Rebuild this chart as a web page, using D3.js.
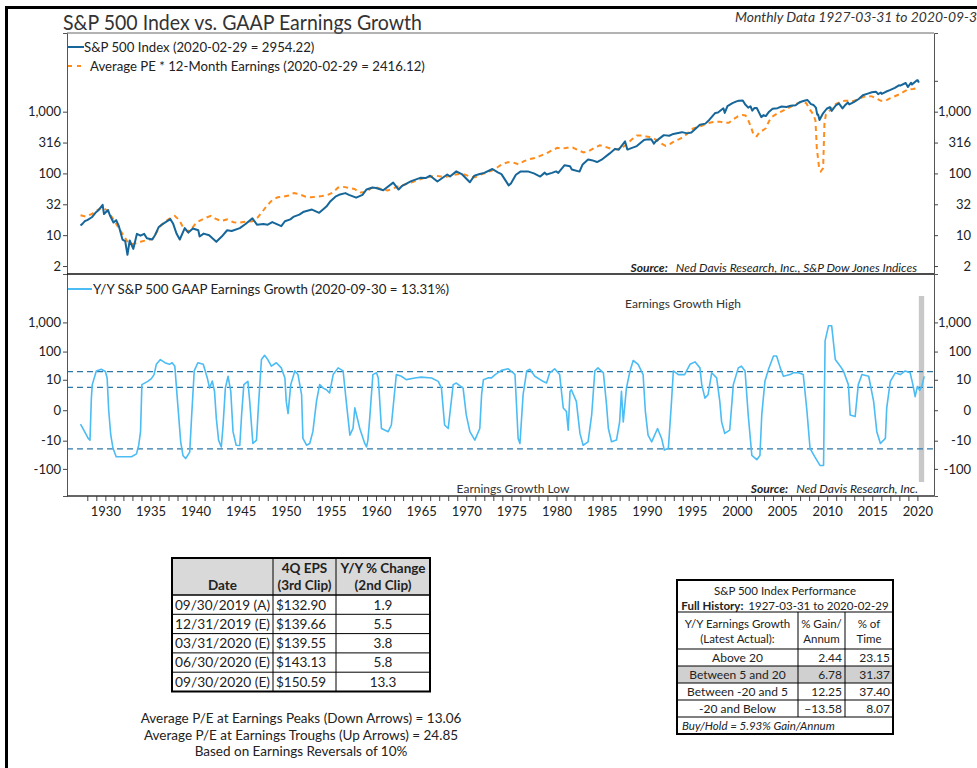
<!DOCTYPE html>
<html>
<head>
<meta charset="utf-8">
<script src="https://cdn.jsdelivr.net/npm/d3@7"></script>
<style>
  body { margin: 0; background: #fff; }
  svg text { font-family: Lato, "Open Sans", sans-serif; fill: #222; }
</style>
</head>
<body>
<svg id="chart" width="977" height="768"></svg>
<script>
// S&P 500 index, monthly data (year, value)
const spxSeries = [
  [1927.25,14.3],[1927.5,15.5],[1927.75,17],[1928.0,17.5],[1928.5,19.5],[1928.9,23],[1929.2,25],[1929.7,31],
  [1929.85,22],[1930.3,25.5],[1930.5,21],[1930.9,16],[1931.2,17.5],[1931.5,14],[1931.9,8.5],[1932.2,8],
  [1932.45,4.8],[1932.7,8.2],[1933.1,6],[1933.5,10.5],[1933.9,9.8],[1934.3,10.5],[1934.6,8.9],[1935.2,8.5],
  [1935.5,10],[1935.9,13.4],[1936.3,15],[1936.9,17],[1937.2,18.2],[1937.5,15.5],[1937.9,10.5],[1938.25,8.5],
  [1938.8,13],[1939.2,11],[1939.7,12.8],[1940.3,12],[1940.45,9.5],[1940.9,10.6],[1941.5,10],[1941.9,8.8],
  [1942.3,7.8],[1942.9,9.5],[1943.5,12],[1944.0,11.7],[1944.9,13],[1945.5,15],[1946.3,18.7],[1946.8,14.8],
  [1947.5,15.2],[1948.0,14.8],[1948.5,16.3],[1949.5,14],[1949.9,16.8],[1950.5,18],[1950.9,20],[1951.5,21.5],
  [1952.0,24],[1952.9,26],[1953.7,23],[1954.5,29],[1954.95,35.5],[1955.5,42],[1955.9,45],[1956.6,48],
  [1957.0,45],[1957.8,40.5],[1958.5,45],[1958.95,55],[1959.6,59],[1960.0,58],[1960.8,53.5],[1961.9,71],
  [1962.5,54.8],[1962.9,63],[1963.9,75],[1964.9,84.7],[1965.5,84],[1966.0,92],[1966.8,74],[1967.9,96],
  [1968.2,89],[1968.9,108],[1969.5,97.7],[1970.4,72],[1970.9,92],[1971.5,98],[1972.0,102],[1972.9,118],
  [1973.5,104],[1973.9,97.5],[1974.7,64],[1974.95,68.6],[1975.5,95],[1976.0,107],[1976.9,107],[1977.5,100],
  [1978.2,89],[1978.7,103],[1978.9,96],[1979.5,102],[1979.95,108],[1980.2,102],[1980.9,136],[1981.5,131],
  [1981.7,116],[1982.55,107],[1982.9,140],[1983.5,168],[1983.9,164],[1984.5,153],[1985.0,167],[1985.9,211],
  [1986.5,250],[1986.9,242],[1987.6,330],[1987.85,245],[1988.0,247],[1988.9,277],[1989.7,349],[1989.95,353],
  [1990.5,358],[1990.8,304],[1991.0,330],[1991.9,417],[1992.5,408],[1992.95,436],[1993.9,466],[1994.5,445],
  [1994.95,459],[1995.9,616],[1996.5,640],[1996.95,741],[1997.6,954],[1997.9,970],[1998.5,1133],[1998.65,957],
  [1998.95,1229],[1999.5,1373],[1999.95,1469],[2000.2,1499],[2000.65,1517],[2000.9,1320],[2001.25,1160],[2001.5,1224],
  [2001.7,1040],[2001.95,1148],[2002.2,1147],[2002.7,815],[2002.95,880],[2003.2,848],[2003.5,975],[2003.95,1112],
  [2004.5,1141],[2004.95,1212],[2005.5,1191],[2005.95,1248],[2006.5,1270],[2006.95,1418],[2007.45,1503],[2007.8,1549],
  [2007.95,1468],[2008.2,1323],[2008.5,1280],[2008.75,1166],[2008.9,896],[2009.0,903],[2009.15,735],[2009.5,919],
  [2009.95,1115],[2010.3,1187],[2010.5,1030],[2010.95,1258],[2011.3,1364],[2011.7,1131],[2011.95,1258],[2012.3,1408],
  [2012.45,1310],[2012.95,1426],[2013.5,1606],[2013.95,1848],[2014.5,1960],[2014.95,2059],[2015.4,2107],[2015.65,1920],
  [2015.95,2044],[2016.05,1940],[2016.5,2099],[2016.95,2239],[2017.5,2423],[2017.95,2674],[2018.1,2640],[2018.7,2914],
  [2018.95,2507],[2019.3,2946],[2019.4,2752],[2019.95,3231],[2020.05,3226],[2020.16,2954]
];

// Average PE * 12-month earnings (year, value)
const fairSeries = [
  [1927.25,21],[1927.8,20],[1928.5,22],[1929.2,26],[1929.75,28],[1930.2,25],[1930.6,21],[1931.0,17],
  [1931.5,13],[1932.0,10],[1932.5,7.6],[1933.0,7.2],[1933.5,7.4],[1934.0,7.9],[1934.6,8.3],[1935.2,8.6],
  [1935.6,10.5],[1936.0,13.5],[1936.6,16.5],[1937.1,18.5],[1937.7,20.5],[1938.2,17.5],[1938.6,13.5],[1939.1,11.5],
  [1939.6,13],[1940.1,16],[1940.6,17.5],[1941.1,19],[1941.7,20.5],[1942.2,18.5],[1942.8,17],[1943.5,18],
  [1944.2,16.2],[1944.9,16],[1945.6,16.5],[1946.3,16.8],[1946.9,19.5],[1947.4,24],[1947.9,30],[1948.5,37],
  [1949.1,41],[1949.7,42],[1950.3,44],[1950.9,48],[1951.5,46],[1952.2,42],[1952.8,41],[1953.4,42],
  [1954.0,43],[1954.6,44.5],[1955.2,49],[1955.8,59],[1956.4,60.5],[1957.0,58],[1957.6,56],[1958.3,49],
  [1958.9,50],[1959.5,58],[1960.1,59],[1960.7,55],[1961.3,53],[1961.9,57],[1962.5,62],[1963.2,66],
  [1963.9,71],[1964.6,78],[1965.3,84],[1966.0,88],[1966.6,92],[1967.2,89],[1967.8,88],[1968.5,94],
  [1969.2,98],[1969.8,96],[1970.5,88],[1971.0,87],[1971.6,96],[1972.3,104],[1972.9,112],[1973.5,127],
  [1974.0,142],[1974.6,152],[1975.2,150],[1975.8,140],[1976.4,158],[1977.0,170],[1977.6,178],[1978.2,192],
  [1978.9,212],[1979.5,236],[1980.1,260],[1980.6,252],[1981.2,260],[1981.8,262],[1982.4,238],[1983.0,218],
  [1983.6,230],[1984.2,260],[1984.8,286],[1985.4,270],[1986.0,252],[1986.6,245],[1987.2,255],[1987.8,300],
  [1988.4,360],[1988.9,410],[1989.5,410],[1990.0,395],[1990.6,380],[1991.2,340],[1991.7,300],[1992.1,280],
  [1992.6,300],[1993.1,335],[1993.6,360],[1994.1,390],[1994.6,460],[1995.1,530],[1995.6,565],[1996.1,590],
  [1996.6,640],[1997.1,670],[1997.6,690],[1998.1,690],[1998.6,665],[1999.1,660],[1999.6,750],[2000.1,840],
  [2000.6,880],[2000.95,870],[2001.3,700],[2001.6,540],[2001.85,420],[2002.2,400],[2002.5,470],[2002.9,500],
  [2003.2,540],[2003.55,700],[2003.9,830],[2004.5,940],[2004.95,1010],[2005.5,1110],[2005.95,1200],[2006.5,1330],
  [2006.95,1410],[2007.4,1430],[2007.7,1370],[2007.95,1150],[2008.25,1000],[2008.5,880],[2008.7,720],[2008.85,260],
  [2009.1,125],[2009.3,108],[2009.55,122],[2009.7,650],[2009.85,890],[2010.3,1050],[2010.6,1200],[2010.95,1330],
  [2011.5,1450],[2011.95,1500],[2012.5,1500],[2012.95,1490],[2013.5,1610],[2013.95,1730],[2014.5,1790],[2014.95,1770],
  [2015.5,1620],[2015.95,1500],[2016.5,1510],[2016.95,1640],[2017.5,1780],[2017.95,1900],[2018.5,2110],[2018.95,2290],
  [2019.5,2330],[2019.95,2410],[2020.16,2416]
];

// Y/Y S&P 500 GAAP earnings growth, % (year, value)
const growthSeries = [
  [1927.25,-2],[1927.7,-4.4],[1928.1,-8.2],[1928.3,-9.5],[1928.45,1.6],[1928.55,6.5],[1929.0,21],[1929.55,24],
  [1930.0,20],[1930.2,11.7],[1930.37,0],[1930.6,-6],[1930.85,-19],[1931.2,-38],[1932.9,-38],[1933.45,-30],
  [1933.7,-14.7],[1933.9,-4.4],[1934.05,6.5],[1934.7,8.7],[1935.1,11],[1935.4,15.5],[1935.65,36],[1936.1,53],
  [1936.6,41],[1937.1,36],[1937.4,41],[1937.7,31],[1938.0,1],[1938.35,-11],[1938.6,-34],[1938.9,-44],
  [1939.35,-26],[1939.55,-0.9],[1939.85,21],[1940.25,41],[1940.85,36],[1941.3,11.7],[1941.55,4.7],[1941.85,9],
  [1942.1,3.4],[1942.3,-0.9],[1942.55,-9.5],[1942.85,-17],[1943.05,-2.2],[1943.3,4.7],[1943.6,13.5],[1943.9,3.4],
  [1944.15,-4.4],[1944.5,-14.7],[1944.9,-15],[1945.1,-0.45],[1945.35,6.5],[1945.8,8.7],[1946.0,1],[1946.35,-12.7],
  [1946.75,-9.5],[1947.0,1],[1947.3,53],[1947.65,74],[1948.0,53],[1948.4,31],[1948.95,41],[1949.5,27],
  [1949.9,11.7],[1950.05,1],[1950.25,-0.3],[1950.55,6.5],[1951.0,21],[1951.35,15.5],[1951.75,2.4],[1951.9,-8.2],
  [1952.3,-14.7],[1952.65,-12.7],[1953.0,-4.4],[1953.4,1],[1953.75,6.5],[1954.15,4.7],[1954.5,4],[1954.85,2.9],
  [1955.25,15.5],[1955.8,27],[1956.35,21],[1956.7,1],[1957.1,-6.1],[1957.45,-3.2],[1957.65,0.2],[1958.2,-3.2],
  [1958.75,-12.7],[1958.95,-17],[1959.1,-9.5],[1959.3,-0.9],[1959.65,15.5],[1960.05,18],[1960.25,11.7],[1960.6,-3.2],
  [1961.35,-4.4],[1961.7,-2.2],[1962.25,15.5],[1962.8,13.5],[1963.35,10.1],[1964.3,11.7],[1965.0,12.5],[1966.15,11.7],
  [1966.9,8.7],[1967.25,4.7],[1967.6,-2.2],[1968.0,-3.2],[1968.55,6.5],[1968.9,7.5],[1969.65,4.7],[1970.0,-0.45],
  [1970.4,-4.4],[1970.95,-9.5],[1971.5,-3.2],[1971.7,2.4],[1971.9,10.1],[1972.4,11.7],[1972.8,11.7],[1973.2,15.5],
  [1973.9,22],[1974.65,25],[1975.2,18],[1975.4,15.5],[1975.55,1],[1975.75,-8.2],[1975.95,-12.7],[1976.3,2.4],
  [1976.7,21],[1977.05,24],[1977.6,13.5],[1978.5,8.7],[1978.9,7.5],[1979.25,18],[1979.8,25],[1980.35,15.5],
  [1980.75,0.2],[1981.1,-0.1],[1981.3,-3.8],[1981.5,3.4],[1981.65,4],[1982.2,1],[1982.6,-5.2],[1982.95,-14.7],
  [1983.5,-11],[1983.9,-0.45],[1984.25,21],[1984.6,27],[1985.2,18],[1985.55,0.5],[1985.75,-3.2],[1986.1,-11],
  [1986.65,-9.5],[1987.0,-1.5],[1987.2,3.4],[1987.4,-1.5],[1987.75,4.7],[1988.15,21],[1988.5,49],[1989.05,36],
  [1989.6,15.5],[1989.85,-0.1],[1990.15,-6.1],[1990.55,-11],[1991.2,-3.2],[1991.65,-8.2],[1991.95,-22],[1992.4,-19],
  [1992.75,1],[1992.95,21],[1993.5,15.5],[1994.2,15.5],[1994.8,36],[1995.35,44],[1995.9,27],[1996.1,6.5],
  [1996.45,1.6],[1996.8,2.4],[1997.2,18],[1997.75,11.7],[1998.1,1],[1998.3,-1.5],[1998.65,-5.2],[1999.2,-3.8],
  [1999.6,6.5],[2000.15,27],[2000.5,31],[2000.9,21],[2001.25,-0.45],[2001.65,-34],[2002.2,-48],[2002.55,-34],
  [2002.75,-0.45],[2003.1,8.7],[2003.5,24],[2004.05,70],[2004.4,70],[2004.8,27],[2005.15,13.5],[2005.9,15.5],
  [2006.25,18],[2006.8,18],[2007.35,15.5],[2007.75,0],[2008.1,-19],[2008.65,-39],[2009.2,-76],[2009.6,-76],
  [2009.77,232],[2010.15,766],[2010.5,766],[2010.9,53],[2011.45,31],[2011.8,21],[2012.35,6.5],[2012.55,-0.45],
  [2013.1,-0.65],[2013.45,6.5],[2013.85,15.5],[2014.6,13.5],[2015.15,1],[2015.5,-4.4],[2015.9,-12.7],[2016.45,-8.2],
  [2016.6,0.2],[2017.0,8.7],[2017.55,18],[2018.1,15.5],[2018.65,21],[2019.2,18],[2019.5,6.5],[2019.75,1.9],
  [2020.0,5.5],[2020.25,3.8],[2020.5,5.8],[2020.75,13.3]
];

// axis ticks
const topTicks = [3.162, 10, 31.62, 100, 316.2, 1000];
const topTickLabels = ["2", "10", "32", "100", "316", "1,000"];
const growthTicks = [-100, -10, 0, 10, 100, 1000];
const growthTickLabels = ["-100", "-10", "0", "10", "100", "1,000"];
const growthLevels = [20, 5, -20];
const estimateSpan = [2020.16, 2020.75];

// EPS table
const epsDates = ["09/30/2019 (A)", "12/31/2019 (E)", "03/31/2020 (E)", "06/30/2020 (E)", "09/30/2020 (E)"];
const epsValues = [132.90, 139.66, 139.55, 143.13, 150.59];
const epsChange = [1.9, 5.5, 3.8, 5.8, 13.3];

// performance table
const perfBands = ["Above 20", "Between 5 and 20", "Between -20 and 5", "-20 and Below"];
const perfGain = [2.44, 6.78, 12.25, -13.58];
const perfTime = [23.15, 31.37, 37.40, 8.07];

const svg = d3.select("#chart");

// outer frame
svg.append("rect").attr("x", 6.5).attr("y", 7.5).attr("width", 1000).attr("height", 800)
  .attr("fill", "none").attr("stroke", "#000").attr("stroke-width", 3);

// title
svg.append("text").attr("x", 63).attr("y", 30).attr("font-size", 21)
  .attr("textLength", 359).attr("lengthAdjust", "spacingAndGlyphs")
  .style("fill", "#333").text("S&P 500 Index vs. GAAP Earnings Growth");
svg.append("text").attr("x", 735).attr("y", 22).attr("font-size", 13)
  .attr("font-style", "italic").attr("textLength", 250).attr("lengthAdjust", "spacingAndGlyphs")
  .style("fill", "#333").text("Monthly Data 1927-03-31 to 2020-09-30");

const L = 67, R = 934;
const topY0 = 33, topY1 = 274, botY1 = 496;

// scales
const x = d3.scaleLinear().domain([1925.75, 2021.84]).range([L, R]);
const yTop = d3.scaleLog().domain([2.35, 18800]).range([topY1, topY0]);
const yBot = d3.scaleSymlog().constant(1).domain([-852, 45180]).range([botY1, topY1]);

// clips
const defs = svg.append("defs");
defs.append("clipPath").attr("id", "clipTop").append("rect")
  .attr("x", L).attr("y", topY0).attr("width", R - L).attr("height", topY1 - topY0);
defs.append("clipPath").attr("id", "clipBot").append("rect")
  .attr("x", L).attr("y", topY1).attr("width", R - L).attr("height", botY1 - topY1);

// ---- top panel ----
const topPanel = svg.append("g");
topPanel.append("line").attr("x1", L).attr("x2", R).attr("y1", topY0).attr("y2", topY0)
  .attr("stroke", "#666").attr("stroke-width", 1);

const lineTop = d3.line().x(d => x(d[0])).y(d => yTop(d[1]));
topPanel.append("path").datum(fairSeries).attr("clip-path", "url(#clipTop)")
  .attr("d", lineTop).attr("fill", "none").attr("stroke", "#ff8c1a")
  .attr("stroke-width", 2).attr("stroke-dasharray", "5,4");
topPanel.append("path").datum(spxSeries).attr("clip-path", "url(#clipTop)")
  .attr("d", lineTop).attr("fill", "none").attr("stroke", "#16669a")
  .attr("stroke-width", 2).attr("stroke-linejoin", "round");

topPanel.append("g").attr("transform", `translate(${L},0)`)
  .call(d3.axisLeft(yTop).tickValues(topTicks).tickFormat((d, i) => topTickLabels[i]).tickSize(4).tickPadding(2));
const rightTop = topPanel.append("g").attr("transform", `translate(${R},0)`)
  .call(d3.axisRight(yTop).tickValues(topTicks.concat([3162])).tickFormat((d, i) => topTickLabels[i] || "").tickSize(4).tickPadding(2));
rightTop.selectAll("text").attr("text-anchor", "end").attr("x", 37);

// legends
topPanel.append("line").attr("x1", 67).attr("x2", 84).attr("y1", 47).attr("y2", 47)
  .attr("stroke", "#16669a").attr("stroke-width", 2);
topPanel.append("text").attr("x", 84).attr("y", 51.5).attr("font-size", 13.2)
  .text("S&P 500 Index (2020-02-29 = 2954.22)");
topPanel.append("line").attr("x1", 68).attr("x2", 85).attr("y1", 66).attr("y2", 66)
  .attr("stroke", "#ff8c1a").attr("stroke-width", 2).attr("stroke-dasharray", "4,5");
topPanel.append("text").attr("x", 90).attr("y", 70.5).attr("font-size", 13.2)
  .text("Average PE * 12-Month Earnings (2020-02-29 = 2416.12)");

const src1 = topPanel.append("text").attr("x", 917).attr("y", 272).attr("font-size", 12)
  .attr("text-anchor", "end").attr("font-style", "italic");
src1.append("tspan").attr("font-weight", "bold").text("Source:");
src1.append("tspan").attr("dx", 8).text("Ned Davis Research, Inc., S&P Dow Jones Indices");

// ---- bottom panel ----
const botPanel = svg.append("g");
botPanel.append("rect")
  .attr("x", x(estimateSpan[0])).attr("width", x(estimateSpan[1]) - x(estimateSpan[0]))
  .attr("y", 296).attr("height", 186).attr("fill", "#c8c8c8");

botPanel.selectAll(".level").data(growthLevels).enter().append("line")
  .attr("x1", L).attr("x2", R).attr("y1", d => yBot(d)).attr("y2", d => yBot(d))
  .attr("stroke", "#2f78a6").attr("stroke-width", 1.3).attr("stroke-dasharray", "6,4");

const lineBot = d3.line().x(d => x(d[0])).y(d => yBot(d[1]));
botPanel.append("path").datum(growthSeries).attr("clip-path", "url(#clipBot)")
  .attr("d", lineBot).attr("fill", "none").attr("stroke", "#4cbcf4")
  .attr("stroke-width", 1.6).attr("stroke-linejoin", "round");

botPanel.append("g").attr("transform", `translate(${L},0)`)
  .call(d3.axisLeft(yBot).tickValues(growthTicks).tickFormat((d, i) => growthTickLabels[i]).tickSize(4).tickPadding(2));
const rightBot = botPanel.append("g").attr("transform", `translate(${R},0)`)
  .call(d3.axisRight(yBot).tickValues(growthTicks).tickFormat((d, i) => growthTickLabels[i]).tickSize(4).tickPadding(2));
rightBot.selectAll("text").attr("text-anchor", "end").attr("x", 37);

botPanel.append("line").attr("x1", 68).attr("x2", 92).attr("y1", 289).attr("y2", 289)
  .attr("stroke", "#4cbcf4").attr("stroke-width", 2);
botPanel.append("text").attr("x", 93).attr("y", 293.5).attr("font-size", 13.3)
  .text("Y/Y S&P 500 GAAP Earnings Growth (2020-09-30 = 13.31%)");

botPanel.append("text").attr("x", 683).attr("y", 308).attr("font-size", 12)
  .attr("text-anchor", "middle").style("fill", "#333").text("Earnings Growth High");
botPanel.append("text").attr("x", 513).attr("y", 493).attr("font-size", 12)
  .attr("text-anchor", "middle").style("fill", "#333").text("Earnings Growth Low");
const src2 = botPanel.append("text").attr("x", 918).attr("y", 493).attr("font-size", 12)
  .attr("text-anchor", "end").attr("font-style", "italic");
src2.append("tspan").attr("font-weight", "bold").text("Source:");
src2.append("tspan").attr("dx", 8).text("Ned Davis Research, Inc.");

// x axis
const xAxis = svg.append("g").attr("transform", `translate(0,${botY1})`)
  .call(d3.axisBottom(x).tickValues(d3.range(1928, 2021)).tickFormat(d => d % 5 === 0 ? d : "")
    .tickSize(5).tickPadding(6));
xAxis.select(".domain").remove();

// panel borders
svg.selectAll(".domain").attr("stroke", "#555");
svg.selectAll(".tick text").attr("font-size", 13).attr("font-family", "Lato, sans-serif").style("fill", "#222");
svg.append("line").attr("x1", L).attr("x2", R).attr("y1", topY1).attr("y2", topY1)
  .attr("stroke", "#111").attr("stroke-width", 1.5);
svg.append("line").attr("x1", L).attr("x2", R).attr("y1", botY1).attr("y2", botY1)
  .attr("stroke", "#333").attr("stroke-width", 1.5);
svg.selectAll(".tick line").attr("stroke", "#444");

// ---- EPS table ----
const t1 = svg.append("g");
const t1Cols = [172, 273, 336, 430];
const t1Top = 558, t1Head = 595, t1Row = 19.3;
const t1Bottom = t1Head + t1Row * epsDates.length;
t1.append("rect").attr("x", t1Cols[0]).attr("y", t1Top).attr("width", t1Cols[3] - t1Cols[0])
  .attr("height", t1Head - t1Top).attr("fill", "#d9d9d9");
epsDates.forEach((d, i) => {
  const yb = t1Head + t1Row * (i + 1);
  if (i < epsDates.length - 1)
    t1.append("line").attr("x1", t1Cols[0]).attr("x2", t1Cols[3]).attr("y1", yb).attr("y2", yb)
      .attr("stroke", "#000").attr("stroke-width", 1);
  const base = t1Head + t1Row * i + 14.5;
  t1.append("text").attr("x", t1Cols[0] + 3).attr("y", base).attr("font-size", 13.5)
    .attr("textLength", 95).attr("lengthAdjust", "spacingAndGlyphs").text(d);
  t1.append("text").attr("x", t1Cols[1] + 3).attr("y", base).attr("font-size", 13.5)
    .text(d3.format("$.2f")(epsValues[i]));
  t1.append("text").attr("x", (t1Cols[2] + t1Cols[3]) / 2).attr("y", base).attr("font-size", 13.5)
    .attr("text-anchor", "middle").text(d3.format(".1f")(epsChange[i]));
});
t1.append("line").attr("x1", t1Cols[0]).attr("x2", t1Cols[3]).attr("y1", t1Head).attr("y2", t1Head)
  .attr("stroke", "#000").attr("stroke-width", 1.5);
[t1Cols[1], t1Cols[2]].forEach(cx => t1.append("line").attr("x1", cx).attr("x2", cx)
  .attr("y1", t1Top).attr("y2", t1Bottom).attr("stroke", "#000").attr("stroke-width", 1));
t1.append("rect").attr("x", t1Cols[0]).attr("y", t1Top).attr("width", t1Cols[3] - t1Cols[0])
  .attr("height", t1Bottom - t1Top).attr("fill", "none").attr("stroke", "#000").attr("stroke-width", 2);
const t1Heads = [["Date"], ["4Q EPS", "(3rd Clip)"], ["Y/Y % Change", "(2nd Clip)"]];
t1Heads.forEach((lines, c) => {
  const cx = (t1Cols[c] + t1Cols[c + 1]) / 2;
  lines.forEach((s, k) => {
    t1.append("text").attr("x", cx).attr("y", 590 - (lines.length - 1 - k) * 17)
      .attr("font-size", 13.5).attr("font-weight", "bold").attr("text-anchor", "middle").text(s);
  });
});

// notes under EPS table
const notes = ["Average P/E at Earnings Peaks (Down Arrows) = 13.06",
  "Average P/E at Earnings Troughs (Up Arrows) = 24.85",
  "Based on Earnings Reversals of 10%"];
notes.forEach((s, i) => svg.append("text").attr("x", 301).attr("y", 723 + i * 16.5)
  .attr("font-size", 13.5).attr("text-anchor", "middle").text(s));

// ---- performance table ----
const t2 = svg.append("g");
const t2Cols = [677, 798, 845, 893];
const t2Top = 580, t2Title = 612, t2Head = 649, t2Row = 17;
const t2RowsEnd = t2Head + t2Row * perfBands.length;
const t2Bottom = t2RowsEnd + 17;
const t2Mid = (t2Cols[0] + t2Cols[3]) / 2;
t2.append("rect").attr("x", t2Cols[0]).attr("y", t2Head + t2Row).attr("width", t2Cols[3] - t2Cols[0])
  .attr("height", t2Row).attr("fill", "#d0d0d0");
t2.append("text").attr("x", t2Mid).attr("y", 595).attr("font-size", 11.5)
  .attr("text-anchor", "middle").text("S&P 500 Index Performance");
const fh = t2.append("text").attr("x", t2Mid).attr("y", 610).attr("font-size", 11.5)
  .attr("text-anchor", "middle");
fh.append("tspan").attr("font-weight", "bold").text("Full History:");
fh.append("tspan").attr("dx", 5).text("1927-03-31 to 2020-02-29");
const t2Heads = [["Y/Y Earnings Growth", "(Latest Actual):"], ["% Gain/", "Annum"], ["% of", "Time"]];
t2Heads.forEach((lines, c) => {
  const cx = (t2Cols[c] + t2Cols[c + 1]) / 2;
  lines.forEach((s, k) => t2.append("text").attr("x", cx).attr("y", 628 + k * 15)
    .attr("font-size", 11.5).attr("text-anchor", "middle").text(s));
});
perfBands.forEach((b, i) => {
  const base = t2Head + t2Row * i + 13;
  t2.append("text").attr("x", (t2Cols[0] + t2Cols[1]) / 2).attr("y", base).attr("font-size", 12)
    .attr("text-anchor", "middle").text(b);
  t2.append("text").attr("x", t2Cols[2] - 3).attr("y", base).attr("font-size", 12)
    .attr("text-anchor", "end").text(d3.format(".2f")(perfGain[i]));
  t2.append("text").attr("x", t2Cols[3] - 3).attr("y", base).attr("font-size", 12)
    .attr("text-anchor", "end").text(d3.format(".2f")(perfTime[i]));
});
t2.append("text").attr("x", t2Cols[0] + 5).attr("y", t2RowsEnd + 13).attr("font-size", 11.5)
  .attr("font-style", "italic").text("Buy/Hold = 5.93% Gain/Annum");
[t2Title, t2Head].concat(d3.range(1, perfBands.length + 1).map(i => t2Head + t2Row * i)).forEach(yy =>
  t2.append("line").attr("x1", t2Cols[0]).attr("x2", t2Cols[3]).attr("y1", yy).attr("y2", yy)
    .attr("stroke", "#000").attr("stroke-width", 1));
[t2Cols[1], t2Cols[2]].forEach(cx => t2.append("line").attr("x1", cx).attr("x2", cx)
  .attr("y1", t2Title).attr("y2", t2RowsEnd).attr("stroke", "#000").attr("stroke-width", 1));
t2.append("rect").attr("x", t2Cols[0]).attr("y", t2Top).attr("width", t2Cols[3] - t2Cols[0])
  .attr("height", t2Bottom - t2Top).attr("fill", "none").attr("stroke", "#000").attr("stroke-width", 2);
</script>
</body>
</html>
